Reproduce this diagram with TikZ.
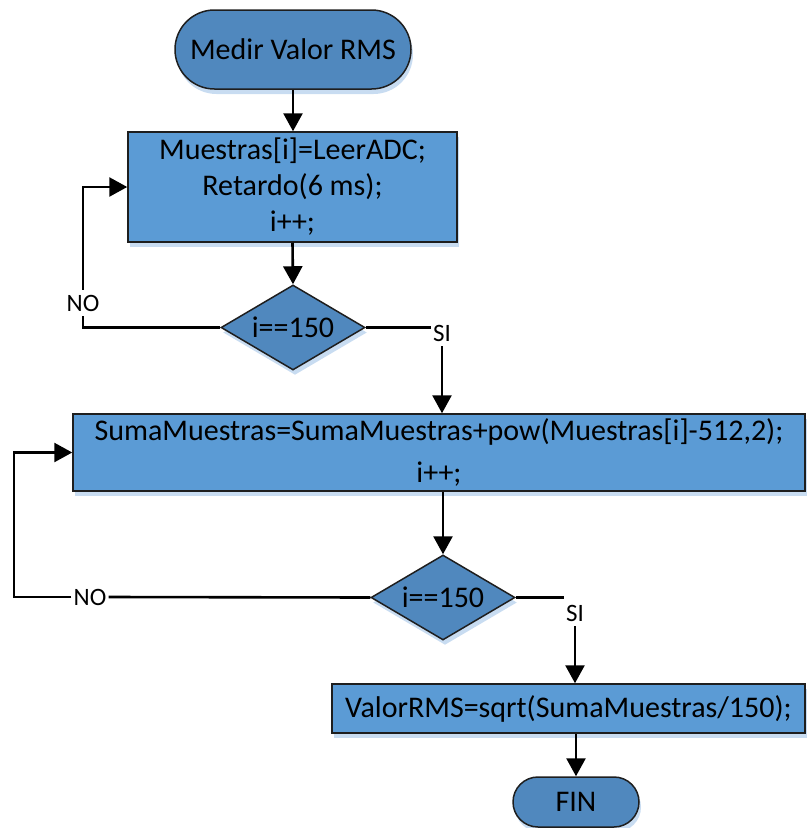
\documentclass[tikz,border=0pt]{standalone}
\usepackage{fontspec}
\setmainfont{Carlito}
\usetikzlibrary{shapes.geometric,shapes.misc,arrows.meta,shadows}
\definecolor{procfill}{RGB}{91,155,213}
\definecolor{termfill}{RGB}{80,136,190}
\definecolor{shadowc}{RGB}{200,220,241}
\definecolor{edgec}{RGB}{30,30,30}
\tikzset{
 base/.style={draw=edgec, line width=1.5pt, text=black, font=\fontsize{30}{36}\selectfont,
   drop shadow={shadow xshift=2pt, shadow yshift=-5pt, fill=shadowc, opacity=1}},
 procbox/.style={base, rectangle, fill=procfill, inner sep=0pt, align=center},
 termbox/.style={base, rounded rectangle, fill=termfill, inner sep=0pt},
 decbox/.style={base, diamond, aspect=1.7, fill=termfill, inner sep=0pt},
 lbl/.style={font=\fontsize{25}{30}\selectfont, inner xsep=2pt, inner ysep=5pt},
 conn/.style={line width=2.6pt, draw=black},
 arr/.style={conn, -{Triangle[length=18pt,width=19pt]}},
}
\begin{document}
\begin{tikzpicture}[x=1pt,y=-1pt]
\useasboundingbox (0,0) rectangle (807,828);
\node[termbox, minimum width=236pt, minimum height=79pt] (start) at (293,49.5) {Medir Valor RMS};
\node[procbox, minimum width=329pt, minimum height=110pt] (b1) at (292.5,187) {Muestras[i]=LeerADC;\\Retardo(6 ms);\\i++;};
\node[decbox, minimum width=144pt, minimum height=85pt] (d1) at (293,327.5) {i==150};
\node[procbox, minimum width=732pt, minimum height=77pt] (b2) at (439,452.5) {SumaMuestras=SumaMuestras+pow(Muestras[i]-512,2);\\[6pt]i++;};
\node[decbox, minimum width=144pt, minimum height=85pt] (d2) at (443,597.5) {i==150};
\node[procbox, minimum width=473pt, minimum height=49pt] (b3) at (568.5,708.5) {ValorRMS=sqrt(SumaMuestras/150);};
\node[termbox, minimum width=126pt, minimum height=50pt] (fin) at (576,802) {FIN};

\node[lbl] (no1) at (83,303) {NO};
\node[lbl] (si1) at (442,333) {SI};
\node[lbl] (no2) at (90,597) {NO};
\node[lbl] (si2) at (575,613) {SI};
\coordinate (c2) at (14,597);

\draw[arr] (start.south) -- (start.south |- b1.north);
\draw[arr] (b1.south) -- (d1.north);
\draw[conn] (d1.west) -| (no1.south);
\draw[arr] (no1.north) |- (b1.west);
\draw[conn] (d1.east) -- (d1.east -| si1.west);
\draw[arr] (si1.south) -- (si1.south |- b2.north);
\draw[arr] (d2.north |- b2.south) -- (d2.north);
\draw[conn] (d2.west) -- (no2.east);
\draw[arr] (no2.west) -- (c2) |- (b2.west);
\draw[conn] (d2.east) -- (d2.east -| si2.west);
\draw[arr] (si2.south) -- (si2.south |- b3.north);
\draw[arr] (fin.north |- b3.south) -- (fin.north);
\end{tikzpicture}
\end{document}
